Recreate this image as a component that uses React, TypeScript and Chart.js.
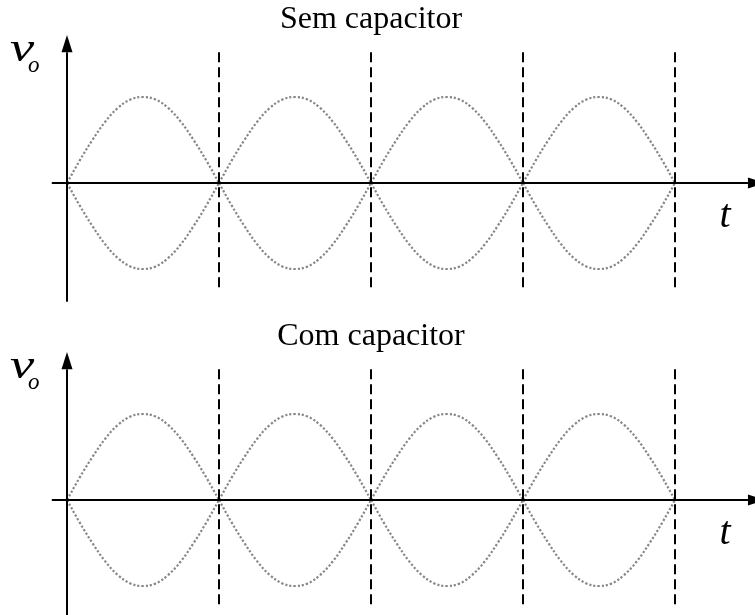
import React, { useEffect, useRef } from "react";
import { Chart, registerables } from "chart.js";

Chart.register(...registerables);

// ---- data ----
const TITLES = ["Sem capacitor", "Com capacitor"];
const Y_LABEL = "v";
const Y_LABEL_SUB = "o";
const X_LABEL = "t";

// start of each half-cycle (in half-periods)
const HALF_CYCLES = [0, 1, 2, 3];
// phase within a half-cycle
const PHASE_STEPS = [0, 0.083, 0.167, 0.25, 0.333, 0.417, 0.5, 0.583, 0.667, 0.75, 0.833, 0.917, 1];
// normalized output (one half-wave arch)
const ARCH_VALUES = [0, 0.26, 0.5, 0.71, 0.87, 0.97, 1, 0.97, 0.87, 0.71, 0.5, 0.26, 0];

// dashed markers at the end of each half-cycle
const DASH_X = [1, 2, 3, 4];
const DASH_RANGE = [1.52, -1.27];

// axes
const X_AXIS_RANGE = [-0.1, 4.48];
const X_ARROW_TIP = 4.59;
const Y_AXIS_RANGE = [-1.38, 1.52];
const Y_ARROW_TIP = 1.72;

// scale windows
const X_WINDOW = [-0.4408, 4.5263];
const Y_WINDOW = [-1.558, 2.128];

const CURVE_COLOR = "#878787";
const INK = "#000000";
const SERIF = "'Liberation Serif', 'Times New Roman', serif";

const W = 755;
const H = 317;

function Panel({ title }: { title: string }) {
  const ref = useRef<HTMLCanvasElement | null>(null);

  useEffect(() => {
    const canvas = ref.current;
    if (!canvas) return;

    const datasets: any[] = [];
    const solid = {
      borderColor: INK,
      borderWidth: 2,
      pointRadius: 0,
      fill: false,
      tension: 0,
    };
    datasets.push({ ...solid, data: [{ x: X_AXIS_RANGE[0], y: 0 }, { x: X_AXIS_RANGE[1], y: 0 }] });
    datasets.push({ ...solid, data: [{ x: 0, y: Y_AXIS_RANGE[0] }, { x: 0, y: Y_AXIS_RANGE[1] }] });

    DASH_X.forEach((x) => {
      datasets.push({
        ...solid,
        borderDash: [10, 5],
        data: [{ x, y: DASH_RANGE[0] }, { x, y: DASH_RANGE[1] }],
      });
    });

    HALF_CYCLES.forEach((k) => {
      [1, -1].forEach((sign) => {
        datasets.push({
          data: PHASE_STEPS.map((p, i) => ({ x: k + p, y: sign * ARCH_VALUES[i] })),
          borderColor: CURVE_COLOR,
          borderWidth: 2.2,
          borderDash: [2.2, 2],
          borderCapStyle: "butt",
          tension: 0.4,
          pointRadius: 0,
          fill: false,
        });
      });
    });

    const decor = {
      id: "decor",
      afterDatasetsDraw(chart: any) {
        const ctx = chart.ctx;
        const xs = chart.scales.x;
        const ys = chart.scales.y;
        ctx.save();
        ctx.fillStyle = INK;

        // y arrow head
        const ax = xs.getPixelForValue(0);
        const ayTip = ys.getPixelForValue(Y_ARROW_TIP);
        const ayBase = ys.getPixelForValue(Y_AXIS_RANGE[1]);
        ctx.beginPath();
        ctx.moveTo(ax, ayTip);
        ctx.lineTo(ax - 5.5, ayBase);
        ctx.lineTo(ax + 5.5, ayBase);
        ctx.closePath();
        ctx.fill();

        // x arrow head
        const y0 = ys.getPixelForValue(0);
        const axTip = xs.getPixelForValue(X_ARROW_TIP);
        const axBase = xs.getPixelForValue(X_AXIS_RANGE[1]);
        ctx.beginPath();
        ctx.moveTo(axTip, y0);
        ctx.lineTo(axBase, y0 - 5.5);
        ctx.lineTo(axBase, y0 + 5.5);
        ctx.closePath();
        ctx.fill();

        // title
        ctx.textBaseline = "alphabetic";
        ctx.textAlign = "center";
        ctx.font = `32px ${SERIF}`;
        ctx.fillText(title, xs.getPixelForValue(2), 28);

        // y label
        ctx.textAlign = "left";
        ctx.save();
        ctx.translate(10, 61);
        ctx.scale(1.3, 1);
        ctx.font = `italic 42px ${SERIF}`;
        ctx.fillText(Y_LABEL, 0, 0);
        ctx.restore();
        ctx.font = `italic 23px ${SERIF}`;
        ctx.fillText(Y_LABEL_SUB, 28, 72);

        // x label
        ctx.textAlign = "center";
        ctx.font = `italic 40px ${SERIF}`;
        ctx.fillText(X_LABEL, xs.getPixelForValue(4.33), 227);

        ctx.restore();
      },
    };

    const chart = new Chart(canvas, {
      type: "line",
      data: { datasets },
      options: {
        responsive: false,
        maintainAspectRatio: false,
        animation: false,
        events: [],
        layout: { padding: 0, autoPadding: false },
        plugins: { legend: { display: false }, tooltip: { enabled: false }, title: { display: false } },
        scales: {
          x: { type: "linear", display: false, min: X_WINDOW[0], max: X_WINDOW[1] },
          y: { type: "linear", display: false, min: Y_WINDOW[0], max: Y_WINDOW[1] },
        },
      },
      plugins: [decor],
    } as any);

    return () => chart.destroy();
  }, [title]);

  return <canvas ref={ref} width={W} height={H} style={{ display: "block", width: W, height: H }} />;
}

export default function App() {
  return (
    <div
      style={{
        position: "fixed",
        left: 0,
        top: 0,
        width: 755,
        height: 615,
        overflow: "hidden",
        background: "#ffffff",
      }}
    >
      <div style={{ position: "absolute", left: 0, top: 0, width: W, height: H, overflow: "hidden" }}>
        <Panel title={TITLES[0]} />
      </div>
      <div style={{ position: "absolute", left: 0, top: H, width: W, height: 615 - H, overflow: "hidden" }}>
        <Panel title={TITLES[1]} />
      </div>
    </div>
  );
}
